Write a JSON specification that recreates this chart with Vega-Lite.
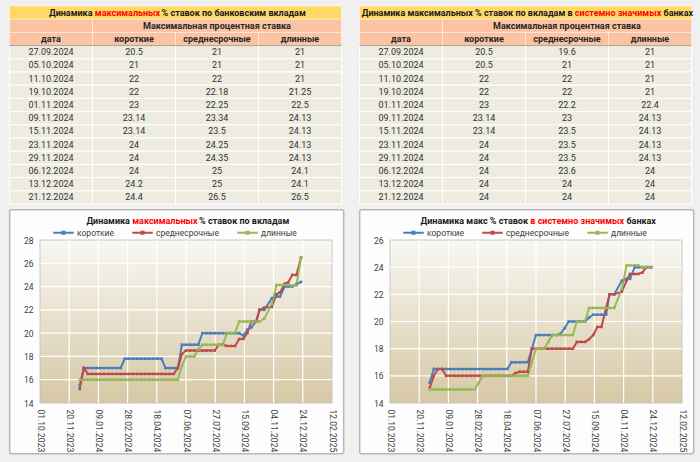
{
"$schema":"https://vega.github.io/schema/vega-lite/v6.json",
"background":"#f0f0f0",
"padding":{"left":8,"top":5,"right":10,"bottom":9},
"config":{"font":"Roboto","view":{"stroke":null},
"axis":{"grid":false,"ticks":false,"domain":false,"labelFontSize":8.5,"labelColor":"#404040","labelOverlap":false,"labelFlush":false,"labelBound":false},
"axisX":{"labelAngle":90,"labelPadding":6},
"axisY":{"labelPadding":7}},
"datasets":{
"hdr":[{"r":"t","c0":0,"c1":4,"p":"t"},{"r":"h1","c0":0,"c1":1,"p":"h"},{"r":"h1","c0":1,"c1":4,"p":"h"},{"r":"h2","c0":0,"c1":1,"p":"h"},{"r":"h2","c0":1,"c1":2,"p":"h"},{"r":"h2","c0":2,"c1":3,"p":"h"},{"r":"h2","c0":3,"c1":4,"p":"h"}],
"htx":[{"r":"h1","c":2.5,"txt":"Максимальная процентная ставка"},{"r":"h2","c":0.5,"txt":"дата"},{"r":"h2","c":1.5,"txt":"короткие"},{"r":"h2","c":2.5,"txt":"среднесрочные"},{"r":"h2","c":3.5,"txt":"длинные"}],
"tL":[{"d":"27.09.2024","k":20.5,"s":21,"l":21},{"d":"05.10.2024","k":21,"s":21,"l":21},{"d":"11.10.2024","k":22,"s":22,"l":21},{"d":"19.10.2024","k":22,"s":22.18,"l":21.25},{"d":"01.11.2024","k":23,"s":22.25,"l":22.5},{"d":"09.11.2024","k":23.14,"s":23.34,"l":24.13},{"d":"15.11.2024","k":23.14,"s":23.5,"l":24.13},{"d":"23.11.2024","k":24,"s":24.25,"l":24.13},{"d":"29.11.2024","k":24,"s":24.35,"l":24.13},{"d":"06.12.2024","k":24,"s":25,"l":24.1},{"d":"13.12.2024","k":24.2,"s":25,"l":24.1},{"d":"21.12.2024","k":24.4,"s":26.5,"l":26.5}],
"tR":[{"d":"27.09.2024","k":20.5,"s":19.6,"l":21},{"d":"05.10.2024","k":20.5,"s":21,"l":21},{"d":"11.10.2024","k":22,"s":22,"l":21},{"d":"19.10.2024","k":22,"s":22,"l":21},{"d":"01.11.2024","k":23,"s":22.2,"l":22.4},{"d":"09.11.2024","k":23.14,"s":23,"l":24.13},{"d":"15.11.2024","k":23.14,"s":23.5,"l":24.13},{"d":"23.11.2024","k":24,"s":23.5,"l":24.13},{"d":"29.11.2024","k":24,"s":23.5,"l":24.13},{"d":"06.12.2024","k":24,"s":23.6,"l":24},{"d":"13.12.2024","k":24,"s":24,"l":24},{"d":"21.12.2024","k":24,"s":24,"l":24}],
"L":[
{"d":"2023-12-08","k":15.5,"s":15.2,"l":16},{"d":"2023-12-15","k":17,"s":17,"l":16},{"d":"2023-12-22","k":17,"s":16.5,"l":16},{"d":"2023-12-29","k":17,"s":16.5,"l":16},
{"d":"2024-01-05","k":17,"s":16.5,"l":16},{"d":"2024-01-12","k":17,"s":16.5,"l":16},{"d":"2024-01-19","k":17,"s":16.5,"l":16},{"d":"2024-01-26","k":17,"s":16.5,"l":16},
{"d":"2024-02-02","k":17,"s":16.5,"l":16},{"d":"2024-02-09","k":17,"s":16.5,"l":16},{"d":"2024-02-16","k":17,"s":16.5,"l":16},{"d":"2024-02-23","k":17.8,"s":16.5,"l":16},
{"d":"2024-03-01","k":17.8,"s":16.5,"l":16},{"d":"2024-03-08","k":17.8,"s":16.5,"l":16},{"d":"2024-03-15","k":17.8,"s":16.5,"l":16},{"d":"2024-03-22","k":17.8,"s":16.5,"l":16},
{"d":"2024-03-29","k":17.8,"s":16.5,"l":16},{"d":"2024-04-05","k":17.8,"s":16.5,"l":16},{"d":"2024-04-12","k":17.8,"s":16.5,"l":16},{"d":"2024-04-19","k":17.8,"s":16.5,"l":16},
{"d":"2024-04-26","k":17.8,"s":16.5,"l":16},{"d":"2024-05-03","k":17,"s":16.5,"l":16},{"d":"2024-05-10","k":17,"s":16.5,"l":16},{"d":"2024-05-17","k":17,"s":16.5,"l":16},
{"d":"2024-05-24","k":17,"s":17,"l":16},{"d":"2024-05-31","k":19,"s":18.2,"l":17.2},{"d":"2024-06-07","k":19,"s":18.5,"l":18},{"d":"2024-06-14","k":19,"s":18.5,"l":18},
{"d":"2024-06-21","k":19,"s":18.5,"l":18},{"d":"2024-06-28","k":19,"s":18.5,"l":18.6},{"d":"2024-07-05","k":20,"s":18.5,"l":19},{"d":"2024-07-12","k":20,"s":18.5,"l":19},
{"d":"2024-07-19","k":20,"s":18.5,"l":19},{"d":"2024-07-26","k":20,"s":18.5,"l":19},{"d":"2024-08-02","k":20,"s":19,"l":19},{"d":"2024-08-09","k":20,"s":19,"l":19},
{"d":"2024-08-16","k":20,"s":18.9,"l":20},{"d":"2024-08-23","k":20,"s":18.9,"l":20},{"d":"2024-08-30","k":20,"s":18.9,"l":20},{"d":"2024-09-06","k":20,"s":19.5,"l":21},
{"d":"2024-09-13","k":19.8,"s":19.5,"l":21},{"d":"2024-09-20","k":20.3,"s":20,"l":21},{"d":"2024-09-27","k":20.5,"s":21,"l":21},{"d":"2024-10-05","k":21,"s":21,"l":21},
{"d":"2024-10-11","k":22,"s":22,"l":21},{"d":"2024-10-19","k":22,"s":22.18,"l":21.25},{"d":"2024-11-01","k":23,"s":22.25,"l":22.5},{"d":"2024-11-09","k":23.14,"s":23.34,"l":24.13},
{"d":"2024-11-15","k":23.14,"s":23.5,"l":24.13},{"d":"2024-11-23","k":24,"s":24.25,"l":24.13},{"d":"2024-11-29","k":24,"s":24.35,"l":24.13},{"d":"2024-12-06","k":24,"s":25,"l":24.1},
{"d":"2024-12-13","k":24.2,"s":25,"l":24.1},{"d":"2024-12-21","k":24.4,"s":26.5,"l":26.5}],
"R":[
{"d":"2023-12-08","k":15.5,"s":15.1,"l":15},{"d":"2023-12-15","k":16.5,"s":16,"l":15},{"d":"2023-12-22","k":16.5,"s":16.5,"l":15},{"d":"2023-12-29","k":16.5,"s":16.5,"l":15},
{"d":"2024-01-05","k":16.5,"s":16,"l":15},{"d":"2024-01-12","k":16.5,"s":16,"l":15},{"d":"2024-01-19","k":16.5,"s":16,"l":15},{"d":"2024-01-26","k":16.5,"s":16,"l":15},
{"d":"2024-02-02","k":16.5,"s":16,"l":15},{"d":"2024-02-09","k":16.5,"s":16,"l":15},{"d":"2024-02-16","k":16.5,"s":16,"l":15},{"d":"2024-02-23","k":16.5,"s":16,"l":15},
{"d":"2024-03-01","k":16.5,"s":16,"l":15.5},{"d":"2024-03-08","k":16.5,"s":16,"l":16},{"d":"2024-03-15","k":16.5,"s":16,"l":16},{"d":"2024-03-22","k":16.5,"s":16,"l":16},
{"d":"2024-03-29","k":16.5,"s":16,"l":16},{"d":"2024-04-05","k":16.5,"s":16,"l":16},{"d":"2024-04-12","k":16.5,"s":16,"l":16},{"d":"2024-04-19","k":16.5,"s":16,"l":16},
{"d":"2024-04-26","k":17,"s":16,"l":16},{"d":"2024-05-03","k":17,"s":16.2,"l":16},{"d":"2024-05-10","k":17,"s":16.3,"l":16},{"d":"2024-05-17","k":17,"s":16.3,"l":16},
{"d":"2024-05-24","k":17,"s":16.3,"l":16},{"d":"2024-05-31","k":18,"s":18,"l":17},{"d":"2024-06-07","k":19,"s":18,"l":18},{"d":"2024-06-14","k":19,"s":18,"l":18},
{"d":"2024-06-21","k":19,"s":18,"l":18},{"d":"2024-06-28","k":19,"s":18,"l":18.5},{"d":"2024-07-05","k":19,"s":18,"l":19},{"d":"2024-07-12","k":19,"s":18,"l":19},
{"d":"2024-07-19","k":19.1,"s":18,"l":19},{"d":"2024-07-26","k":19.5,"s":18,"l":19},{"d":"2024-08-02","k":20,"s":18,"l":19},{"d":"2024-08-09","k":20,"s":18,"l":19},
{"d":"2024-08-16","k":20,"s":18.5,"l":20},{"d":"2024-08-23","k":20,"s":18.5,"l":20},{"d":"2024-08-30","k":20,"s":18.5,"l":20},{"d":"2024-09-06","k":20.3,"s":18.7,"l":21},
{"d":"2024-09-13","k":20.5,"s":19,"l":21},{"d":"2024-09-20","k":20.5,"s":19.6,"l":21},{"d":"2024-09-27","k":20.5,"s":19.6,"l":21},{"d":"2024-10-05","k":20.5,"s":21,"l":21},
{"d":"2024-10-11","k":22,"s":22,"l":21},{"d":"2024-10-19","k":22,"s":22,"l":21},{"d":"2024-11-01","k":23,"s":22.2,"l":22.4},{"d":"2024-11-09","k":23.14,"s":23,"l":24.13},
{"d":"2024-11-15","k":23.14,"s":23.5,"l":24.13},{"d":"2024-11-23","k":24,"s":23.5,"l":24.13},{"d":"2024-11-29","k":24,"s":23.5,"l":24.13},{"d":"2024-12-06","k":24,"s":23.6,"l":24},
{"d":"2024-12-13","k":24,"s":24,"l":24},{"d":"2024-12-21","k":24,"s":24,"l":24}],
"xg":[{"d":"2023-11-20"},{"d":"2024-01-09"},{"d":"2024-02-28"},{"d":"2024-04-18"},{"d":"2024-06-07"},{"d":"2024-07-27"},{"d":"2024-09-15"},{"d":"2024-11-04"},{"d":"2024-12-24"}],
"ygL":[{"v":16},{"v":18},{"v":20},{"v":22},{"v":24},{"v":26}],
"ygR":[{"v":16},{"v":18},{"v":20},{"v":22},{"v":24}]
},
"concat":[
{"width":292,"height":198,
"layer":[
{"data":{"name":"tL"},"mark":{"type":"rect","fill":"#eeece1","stroke":"#ffffff","strokeWidth":1},
"encoding":{"x":{"datum":0,"type":"quantitative","scale":{"domain":[0.3675,3.8855],"nice":false,"zero":false},"axis":null},"x2":{"datum":4},
"y":{"field":"d","type":"ordinal","scale":{"domain":["t","h1","h2","27.09.2024","05.10.2024","11.10.2024","19.10.2024","01.11.2024","09.11.2024","15.11.2024","23.11.2024","29.11.2024","06.12.2024","13.12.2024","21.12.2024"],"paddingInner":0,"paddingOuter":0},"axis":null}}},
{"data":{"values":[{"c":1},{"c":2},{"c":3}]},"mark":{"type":"rule","color":"#ffffff","strokeWidth":1},
"encoding":{"x":{"field":"c","type":"quantitative","scale":{"domain":[0.3675,3.8855],"nice":false,"zero":false},"axis":null}}},
{"data":{"name":"hdr"},"mark":{"type":"rect","stroke":"#ffffff","strokeWidth":0.6,"strokeOpacity":0.7},
"encoding":{"x":{"field":"c0","type":"quantitative","scale":{"domain":[0.3675,3.8855],"nice":false,"zero":false},"axis":null},"x2":{"field":"c1"},
"y":{"field":"r","type":"ordinal","scale":{"domain":["t","h1","h2","27.09.2024","05.10.2024","11.10.2024","19.10.2024","01.11.2024","09.11.2024","15.11.2024","23.11.2024","29.11.2024","06.12.2024","13.12.2024","21.12.2024"],"paddingInner":0,"paddingOuter":0},"axis":null},
"fill":{"condition":{"test":"datum.p==='t'","value":"#ffd966"},"value":"#fcc3a3"}}},
{"data":{"values":[{}]},"mark":{"type":"rule","color":"#a3a3a3","strokeWidth":1},
"encoding":{"x":{"datum":0,"type":"quantitative","scale":{"domain":[0.3675,3.8855],"nice":false,"zero":false},"axis":null},"x2":{"datum":4},
"y":{"datum":"27.09.2024","type":"ordinal","bandPosition":0,"scale":{"domain":["t","h1","h2","27.09.2024","05.10.2024","11.10.2024","19.10.2024","01.11.2024","09.11.2024","15.11.2024","23.11.2024","29.11.2024","06.12.2024","13.12.2024","21.12.2024"],"paddingInner":0,"paddingOuter":0},"axis":null}}},
{"data":{"name":"htx"},"mark":{"type":"text","fontWeight":"bold","fontSize":9,"color":"#262626"},
"encoding":{"x":{"field":"c","type":"quantitative","scale":{"domain":[0.3675,3.8855],"nice":false,"zero":false},"axis":null},
"y":{"field":"r","type":"ordinal","scale":{"domain":["t","h1","h2","27.09.2024","05.10.2024","11.10.2024","19.10.2024","01.11.2024","09.11.2024","15.11.2024","23.11.2024","29.11.2024","06.12.2024","13.12.2024","21.12.2024"],"paddingInner":0,"paddingOuter":0},"axis":null},"text":{"field":"txt","type":"nominal"}}},
{"data":{"name":"tL"},"mark":{"type":"text","fontSize":9,"color":"#333333"},
"encoding":{"x":{"datum":0.5,"type":"quantitative","scale":{"domain":[0.3675,3.8855],"nice":false,"zero":false},"axis":null},
"y":{"field":"d","type":"ordinal","scale":{"domain":["t","h1","h2","27.09.2024","05.10.2024","11.10.2024","19.10.2024","01.11.2024","09.11.2024","15.11.2024","23.11.2024","29.11.2024","06.12.2024","13.12.2024","21.12.2024"],"paddingInner":0,"paddingOuter":0},"axis":null},"text":{"field":"d","type":"nominal"}}},
{"data":{"name":"tL"},"mark":{"type":"text","fontSize":9,"color":"#333333"},
"encoding":{"x":{"datum":1.5,"type":"quantitative","scale":{"domain":[0.3675,3.8855],"nice":false,"zero":false},"axis":null},
"y":{"field":"d","type":"ordinal","scale":{"domain":["t","h1","h2","27.09.2024","05.10.2024","11.10.2024","19.10.2024","01.11.2024","09.11.2024","15.11.2024","23.11.2024","29.11.2024","06.12.2024","13.12.2024","21.12.2024"],"paddingInner":0,"paddingOuter":0},"axis":null},"text":{"field":"k","type":"nominal"}}},
{"data":{"name":"tL"},"mark":{"type":"text","fontSize":9,"color":"#333333"},
"encoding":{"x":{"datum":2.5,"type":"quantitative","scale":{"domain":[0.3675,3.8855],"nice":false,"zero":false},"axis":null},
"y":{"field":"d","type":"ordinal","scale":{"domain":["t","h1","h2","27.09.2024","05.10.2024","11.10.2024","19.10.2024","01.11.2024","09.11.2024","15.11.2024","23.11.2024","29.11.2024","06.12.2024","13.12.2024","21.12.2024"],"paddingInner":0,"paddingOuter":0},"axis":null},"text":{"field":"s","type":"nominal"}}},
{"data":{"name":"tL"},"mark":{"type":"text","fontSize":9,"color":"#333333"},
"encoding":{"x":{"datum":3.5,"type":"quantitative","scale":{"domain":[0.3675,3.8855],"nice":false,"zero":false},"axis":null},
"y":{"field":"d","type":"ordinal","scale":{"domain":["t","h1","h2","27.09.2024","05.10.2024","11.10.2024","19.10.2024","01.11.2024","09.11.2024","15.11.2024","23.11.2024","29.11.2024","06.12.2024","13.12.2024","21.12.2024"],"paddingInner":0,"paddingOuter":0},"axis":null},"text":{"field":"l","type":"nominal"}}},
{"data":{"values":[{}]},"mark":{"type":"text","text":"Динамика","align":"right","fontWeight":"bold","fontSize":9,"color":"#1a1a1a"},
"encoding":{"x":{"datum":1.0,"type":"quantitative","scale":{"domain":[0.3675,3.8855],"nice":false,"zero":false},"axis":null},
"y":{"datum":"t","type":"ordinal","scale":{"domain":["t","h1","h2","27.09.2024","05.10.2024","11.10.2024","19.10.2024","01.11.2024","09.11.2024","15.11.2024","23.11.2024","29.11.2024","06.12.2024","13.12.2024","21.12.2024"],"paddingInner":0,"paddingOuter":0},"axis":null}}},
{"data":{"values":[{}]},"mark":{"type":"text","text":"максимальных","align":"left","dx":2.3,"fontWeight":"bold","fontSize":9,"color":"#ff0000"},
"encoding":{"x":{"datum":1.0,"type":"quantitative","scale":{"domain":[0.3675,3.8855],"nice":false,"zero":false},"axis":null},
"y":{"datum":"t","type":"ordinal","scale":{"domain":["t","h1","h2","27.09.2024","05.10.2024","11.10.2024","19.10.2024","01.11.2024","09.11.2024","15.11.2024","23.11.2024","29.11.2024","06.12.2024","13.12.2024","21.12.2024"],"paddingInner":0,"paddingOuter":0},"axis":null}}},
{"data":{"values":[{}]},"mark":{"type":"text","text":"% ставок по банковским вкладам","align":"left","dx":4.6,"fontWeight":"bold","fontSize":9,"color":"#1a1a1a"},
"encoding":{"x":{"datum":1.777,"type":"quantitative","scale":{"domain":[0.3675,3.8855],"nice":false,"zero":false},"axis":null},
"y":{"datum":"t","type":"ordinal","scale":{"domain":["t","h1","h2","27.09.2024","05.10.2024","11.10.2024","19.10.2024","01.11.2024","09.11.2024","15.11.2024","23.11.2024","29.11.2024","06.12.2024","13.12.2024","21.12.2024"],"paddingInner":0,"paddingOuter":0},"axis":null}}}
]},
{"width":292,"height":198,
"layer":[
{"data":{"name":"tR"},"mark":{"type":"rect","fill":"#eeece1","stroke":"#ffffff","strokeWidth":1},
"encoding":{"x":{"datum":0,"type":"quantitative","scale":{"domain":[0.3675,3.8855],"nice":false,"zero":false},"axis":null},"x2":{"datum":4},
"y":{"field":"d","type":"ordinal","scale":{"domain":["t","h1","h2","27.09.2024","05.10.2024","11.10.2024","19.10.2024","01.11.2024","09.11.2024","15.11.2024","23.11.2024","29.11.2024","06.12.2024","13.12.2024","21.12.2024"],"paddingInner":0,"paddingOuter":0},"axis":null}}},
{"data":{"values":[{"c":1},{"c":2},{"c":3}]},"mark":{"type":"rule","color":"#ffffff","strokeWidth":1},
"encoding":{"x":{"field":"c","type":"quantitative","scale":{"domain":[0.3675,3.8855],"nice":false,"zero":false},"axis":null}}},
{"data":{"name":"hdr"},"mark":{"type":"rect","stroke":"#ffffff","strokeWidth":0.6,"strokeOpacity":0.7},
"encoding":{"x":{"field":"c0","type":"quantitative","scale":{"domain":[0.3675,3.8855],"nice":false,"zero":false},"axis":null},"x2":{"field":"c1"},
"y":{"field":"r","type":"ordinal","scale":{"domain":["t","h1","h2","27.09.2024","05.10.2024","11.10.2024","19.10.2024","01.11.2024","09.11.2024","15.11.2024","23.11.2024","29.11.2024","06.12.2024","13.12.2024","21.12.2024"],"paddingInner":0,"paddingOuter":0},"axis":null},
"fill":{"condition":{"test":"datum.p==='t'","value":"#ffd966"},"value":"#fcc3a3"}}},
{"data":{"values":[{}]},"mark":{"type":"rule","color":"#a3a3a3","strokeWidth":1},
"encoding":{"x":{"datum":0,"type":"quantitative","scale":{"domain":[0.3675,3.8855],"nice":false,"zero":false},"axis":null},"x2":{"datum":4},
"y":{"datum":"27.09.2024","type":"ordinal","bandPosition":0,"scale":{"domain":["t","h1","h2","27.09.2024","05.10.2024","11.10.2024","19.10.2024","01.11.2024","09.11.2024","15.11.2024","23.11.2024","29.11.2024","06.12.2024","13.12.2024","21.12.2024"],"paddingInner":0,"paddingOuter":0},"axis":null}}},
{"data":{"name":"htx"},"mark":{"type":"text","fontWeight":"bold","fontSize":9,"color":"#262626"},
"encoding":{"x":{"field":"c","type":"quantitative","scale":{"domain":[0.3675,3.8855],"nice":false,"zero":false},"axis":null},
"y":{"field":"r","type":"ordinal","scale":{"domain":["t","h1","h2","27.09.2024","05.10.2024","11.10.2024","19.10.2024","01.11.2024","09.11.2024","15.11.2024","23.11.2024","29.11.2024","06.12.2024","13.12.2024","21.12.2024"],"paddingInner":0,"paddingOuter":0},"axis":null},"text":{"field":"txt","type":"nominal"}}},
{"data":{"name":"tR"},"mark":{"type":"text","fontSize":9,"color":"#333333"},
"encoding":{"x":{"datum":0.5,"type":"quantitative","scale":{"domain":[0.3675,3.8855],"nice":false,"zero":false},"axis":null},
"y":{"field":"d","type":"ordinal","scale":{"domain":["t","h1","h2","27.09.2024","05.10.2024","11.10.2024","19.10.2024","01.11.2024","09.11.2024","15.11.2024","23.11.2024","29.11.2024","06.12.2024","13.12.2024","21.12.2024"],"paddingInner":0,"paddingOuter":0},"axis":null},"text":{"field":"d","type":"nominal"}}},
{"data":{"name":"tR"},"mark":{"type":"text","fontSize":9,"color":"#333333"},
"encoding":{"x":{"datum":1.5,"type":"quantitative","scale":{"domain":[0.3675,3.8855],"nice":false,"zero":false},"axis":null},
"y":{"field":"d","type":"ordinal","scale":{"domain":["t","h1","h2","27.09.2024","05.10.2024","11.10.2024","19.10.2024","01.11.2024","09.11.2024","15.11.2024","23.11.2024","29.11.2024","06.12.2024","13.12.2024","21.12.2024"],"paddingInner":0,"paddingOuter":0},"axis":null},"text":{"field":"k","type":"nominal"}}},
{"data":{"name":"tR"},"mark":{"type":"text","fontSize":9,"color":"#333333"},
"encoding":{"x":{"datum":2.5,"type":"quantitative","scale":{"domain":[0.3675,3.8855],"nice":false,"zero":false},"axis":null},
"y":{"field":"d","type":"ordinal","scale":{"domain":["t","h1","h2","27.09.2024","05.10.2024","11.10.2024","19.10.2024","01.11.2024","09.11.2024","15.11.2024","23.11.2024","29.11.2024","06.12.2024","13.12.2024","21.12.2024"],"paddingInner":0,"paddingOuter":0},"axis":null},"text":{"field":"s","type":"nominal"}}},
{"data":{"name":"tR"},"mark":{"type":"text","fontSize":9,"color":"#333333"},
"encoding":{"x":{"datum":3.5,"type":"quantitative","scale":{"domain":[0.3675,3.8855],"nice":false,"zero":false},"axis":null},
"y":{"field":"d","type":"ordinal","scale":{"domain":["t","h1","h2","27.09.2024","05.10.2024","11.10.2024","19.10.2024","01.11.2024","09.11.2024","15.11.2024","23.11.2024","29.11.2024","06.12.2024","13.12.2024","21.12.2024"],"paddingInner":0,"paddingOuter":0},"axis":null},"text":{"field":"l","type":"nominal"}}},
{"data":{"values":[{}]},"mark":{"type":"text","text":"Динамика максимальных % ставок по вкладам в","align":"right","fontWeight":"bold","fontSize":9,"color":"#1a1a1a"},
"encoding":{"x":{"datum":2.567,"type":"quantitative","scale":{"domain":[0.3675,3.8855],"nice":false,"zero":false},"axis":null},
"y":{"datum":"t","type":"ordinal","scale":{"domain":["t","h1","h2","27.09.2024","05.10.2024","11.10.2024","19.10.2024","01.11.2024","09.11.2024","15.11.2024","23.11.2024","29.11.2024","06.12.2024","13.12.2024","21.12.2024"],"paddingInner":0,"paddingOuter":0},"axis":null}}},
{"data":{"values":[{}]},"mark":{"type":"text","text":"системно значимых","align":"left","dx":2.3,"fontWeight":"bold","fontSize":9,"color":"#ff0000"},
"encoding":{"x":{"datum":2.567,"type":"quantitative","scale":{"domain":[0.3675,3.8855],"nice":false,"zero":false},"axis":null},
"y":{"datum":"t","type":"ordinal","scale":{"domain":["t","h1","h2","27.09.2024","05.10.2024","11.10.2024","19.10.2024","01.11.2024","09.11.2024","15.11.2024","23.11.2024","29.11.2024","06.12.2024","13.12.2024","21.12.2024"],"paddingInner":0,"paddingOuter":0},"axis":null}}},
{"data":{"values":[{}]},"mark":{"type":"text","text":"банках","align":"left","dx":4.6,"fontWeight":"bold","fontSize":9,"color":"#1a1a1a"},
"encoding":{"x":{"datum":3.608,"type":"quantitative","scale":{"domain":[0.3675,3.8855],"nice":false,"zero":false},"axis":null},
"y":{"datum":"t","type":"ordinal","scale":{"domain":["t","h1","h2","27.09.2024","05.10.2024","11.10.2024","19.10.2024","01.11.2024","09.11.2024","15.11.2024","23.11.2024","29.11.2024","06.12.2024","13.12.2024","21.12.2024"],"paddingInner":0,"paddingOuter":0},"axis":null}}}
]},
{"width":292,"height":163,
"encoding":{
"x":{"type":"temporal","scale":{"domain":[{"year":2023,"month":10,"date":1},{"year":2025,"month":2,"date":12}],"nice":false},"axis":{"values":[{"year":2023,"month":10,"date":1},{"year":2023,"month":11,"date":20},{"year":2024,"month":1,"date":9},{"year":2024,"month":2,"date":28},{"year":2024,"month":4,"date":18},{"year":2024,"month":6,"date":7},{"year":2024,"month":7,"date":27},{"year":2024,"month":9,"date":15},{"year":2024,"month":11,"date":4},{"year":2024,"month":12,"date":24},{"year":2025,"month":2,"date":12}],"format":"%d.%m.%Y","labelOverlap":false,"title":null,"zindex":1}},
"y":{"type":"quantitative","scale":{"domain":[14,28],"nice":false,"zero":false},"axis":{"values":[14,16,18,20,22,24,26,28],"labelOverlap":false,"title":null,"zindex":1}}
},
"layer":[
{"data":{"values":[{}]},"mark":{"type":"rect","fill":"#fdfdfd","stroke":"#b8b8b8","strokeWidth":1.5,"cornerRadius":2},
"encoding":{"x":{"datum":{"year":2023,"month":8,"date":10}},"x2":{"datum":{"year":2025,"month":3,"date":4}},"y":{"datum":30.6},"y2":{"datum":9.65}}},
{"data":{"values":[{}]},"mark":{"type":"rect","fill":{"gradient":"linear","x1":0,"y1":0,"x2":0,"y2":1,"stops":[{"offset":0,"color":"#f8f7f3"},{"offset":1,"color":"#d6c8a4"}]},"stroke":"#bdbdbd","strokeWidth":0.8},
"encoding":{"x":{"datum":{"year":2023,"month":10,"date":1}},"x2":{"datum":{"year":2025,"month":2,"date":12}},"y":{"datum":14},"y2":{"datum":28}}},
{"data":{"name":"xg"},"mark":{"type":"rule","color":"#ffffff","strokeWidth":1.2},
"encoding":{"x":{"field":"d"},"y":{"datum":14},"y2":{"datum":28}}},
{"data":{"name":"ygL"},"mark":{"type":"rule","color":"#ffffff","strokeWidth":1.2},
"encoding":{"y":{"field":"v"},"x":{"datum":{"year":2023,"month":10,"date":1}},"x2":{"datum":{"year":2025,"month":2,"date":12}}}},
{"data":{"name":"L"},"transform":[{"fold":["k","s","l"],"as":["ряд","v"]}],
"mark":{"type":"line","strokeWidth":2,"point":{"filled":true,"size":7,"shape":"square"}},
"encoding":{"x":{"field":"d"},"y":{"field":"v"},
"color":{"field":"ряд","type":"nominal","scale":{"domain":["k","s","l"],"range":["#4a7ebb","#be4b48","#98b954"]},
"legend":{"orient":"top","direction":"horizontal","title":null,"labelExpr":"datum.label=='k'?'короткие':datum.label=='s'?'среднесрочные':'длинные'","labelFontSize":8.5,"labelColor":"#404040","symbolType":"M-1,0H1M-0.1,-0.1H0.1V0.1H-0.1Z","symbolSize":420,"symbolStrokeWidth":2,"columnPadding":14,"offset":-10,"padding":12,"labelOffset":2,"zindex":1}}}},
{"data":{"values":[{}]},"mark":{"type":"text","text":"Динамика","align":"right","baseline":"middle","fontWeight":"bold","fontSize":9,"color":"#1a1a1a"},
"encoding":{"x":{"datum":{"year":2024,"month":3,"date":3}},"y":{"datum":29.6}}},
{"data":{"values":[{}]},"mark":{"type":"text","text":"максимальных","align":"left","dx":2.3,"baseline":"middle","fontWeight":"bold","fontSize":9,"color":"#ff0000"},
"encoding":{"x":{"datum":{"year":2024,"month":3,"date":3}},"y":{"datum":29.6}}},
{"data":{"values":[{}]},"mark":{"type":"text","text":"% ставок по вкладам","align":"left","dx":4.6,"baseline":"middle","fontWeight":"bold","fontSize":9,"color":"#1a1a1a"},
"encoding":{"x":{"datum":{"year":2024,"month":6,"date":21,"hours":12}},"y":{"datum":29.6}}}
]},
{"width":292,"height":163,
"encoding":{
"x":{"type":"temporal","scale":{"domain":[{"year":2023,"month":10,"date":1},{"year":2025,"month":2,"date":12}],"nice":false},"axis":{"values":[{"year":2023,"month":10,"date":1},{"year":2023,"month":11,"date":20},{"year":2024,"month":1,"date":9},{"year":2024,"month":2,"date":28},{"year":2024,"month":4,"date":18},{"year":2024,"month":6,"date":7},{"year":2024,"month":7,"date":27},{"year":2024,"month":9,"date":15},{"year":2024,"month":11,"date":4},{"year":2024,"month":12,"date":24},{"year":2025,"month":2,"date":12}],"format":"%d.%m.%Y","labelOverlap":false,"title":null,"zindex":1}},
"y":{"type":"quantitative","scale":{"domain":[14,26],"nice":false,"zero":false},"axis":{"values":[14,16,18,20,22,24,26],"labelOverlap":false,"title":null,"zindex":1}}
},
"layer":[
{"data":{"values":[{}]},"mark":{"type":"rect","fill":"#fdfdfd","stroke":"#b8b8b8","strokeWidth":1.5,"cornerRadius":2},
"encoding":{"x":{"datum":{"year":2023,"month":8,"date":10}},"x2":{"datum":{"year":2025,"month":3,"date":4}},"y":{"datum":28.23},"y2":{"datum":10.27}}},
{"data":{"values":[{}]},"mark":{"type":"rect","fill":{"gradient":"linear","x1":0,"y1":0,"x2":0,"y2":1,"stops":[{"offset":0,"color":"#f8f7f3"},{"offset":1,"color":"#d6c8a4"}]},"stroke":"#bdbdbd","strokeWidth":0.8},
"encoding":{"x":{"datum":{"year":2023,"month":10,"date":1}},"x2":{"datum":{"year":2025,"month":2,"date":12}},"y":{"datum":14},"y2":{"datum":26}}},
{"data":{"name":"xg"},"mark":{"type":"rule","color":"#ffffff","strokeWidth":1.2},
"encoding":{"x":{"field":"d"},"y":{"datum":14},"y2":{"datum":26}}},
{"data":{"name":"ygR"},"mark":{"type":"rule","color":"#ffffff","strokeWidth":1.2},
"encoding":{"y":{"field":"v"},"x":{"datum":{"year":2023,"month":10,"date":1}},"x2":{"datum":{"year":2025,"month":2,"date":12}}}},
{"data":{"name":"R"},"transform":[{"fold":["k","s","l"],"as":["ряд","v"]}],
"mark":{"type":"line","strokeWidth":2,"point":{"filled":true,"size":7,"shape":"square"}},
"encoding":{"x":{"field":"d"},"y":{"field":"v"},
"color":{"field":"ряд","type":"nominal","scale":{"domain":["k","s","l"],"range":["#4a7ebb","#be4b48","#98b954"]},
"legend":{"orient":"top","direction":"horizontal","title":null,"labelExpr":"datum.label=='k'?'короткие':datum.label=='s'?'среднесрочные':'длинные'","labelFontSize":8.5,"labelColor":"#404040","symbolType":"M-1,0H1M-0.1,-0.1H0.1V0.1H-0.1Z","symbolSize":420,"symbolStrokeWidth":2,"columnPadding":14,"offset":-10,"padding":12,"labelOffset":2,"zindex":1}}}},
{"data":{"values":[{}]},"mark":{"type":"text","text":"Динамика макс % ставок","align":"right","baseline":"middle","fontWeight":"bold","fontSize":9,"color":"#1a1a1a"},
"encoding":{"x":{"datum":{"year":2024,"month":5,"date":24,"hours":8}},"y":{"datum":27.42}}},
{"data":{"values":[{}]},"mark":{"type":"text","text":"в системно значимых","align":"left","dx":2.3,"baseline":"middle","fontWeight":"bold","fontSize":9,"color":"#ff0000"},
"encoding":{"x":{"datum":{"year":2024,"month":5,"date":24,"hours":8}},"y":{"datum":27.42}}},
{"data":{"values":[{}]},"mark":{"type":"text","text":"банках","align":"left","dx":4.6,"baseline":"middle","fontWeight":"bold","fontSize":9,"color":"#1a1a1a"},
"encoding":{"x":{"datum":{"year":2024,"month":11,"date":1}},"y":{"datum":27.42}}}
]}
],
"columns":2,
"spacing":{"row":3,"column":13},
"bounds":"full",
"align":"none",
"resolve":{"scale":{"color":"independent","x":"independent","y":"independent"},"legend":{"color":"independent"}}
}
